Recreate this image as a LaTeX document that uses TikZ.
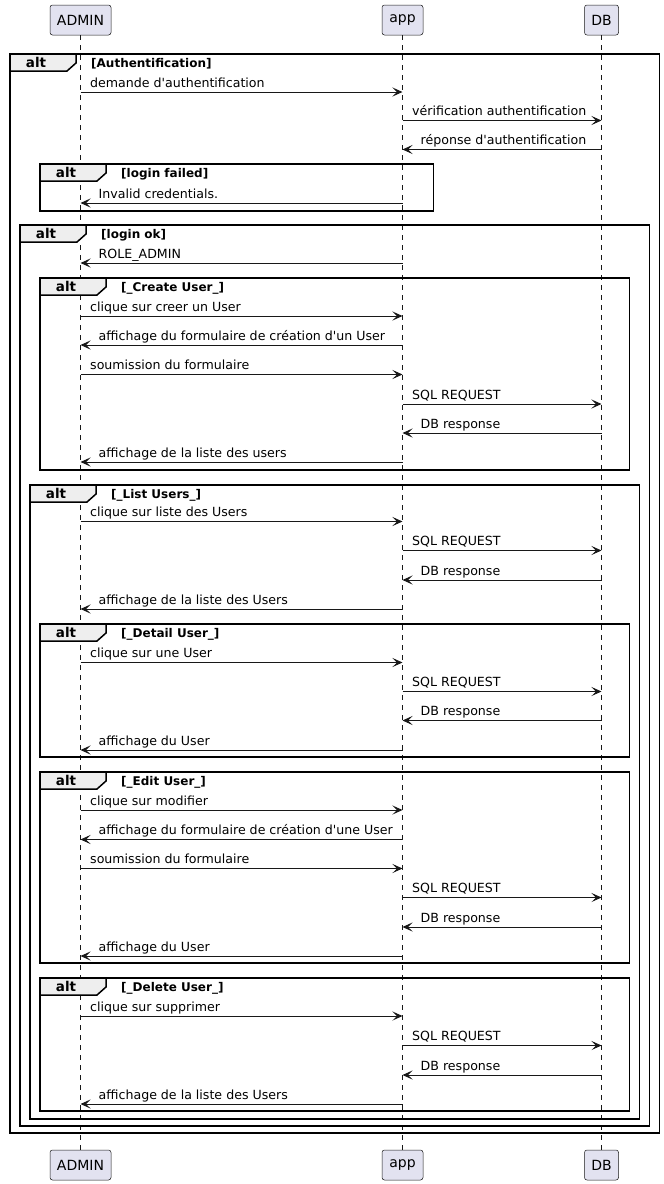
\documentclass[tikz,border=0pt]{standalone}
\usepackage{fontspec}
\newfontfamily\dvs{DejaVu Sans}
\usetikzlibrary{arrows.meta,calc}
\definecolor{ln}{HTML}{181818}
\definecolor{pfill}{HTML}{E2E2F0}
\definecolor{tabfill}{HTML}{EEEEEE}
\tikzset{
  partbox/.style={draw=ln,fill=pfill,rounded corners=2.5pt,line width=0.5pt,minimum height=30pt,inner sep=0pt,font=\dvs\fontsize{14}{16}\selectfont},
  lifeline/.style={draw=ln,line width=0.5pt,dash pattern=on 5pt off 5pt},
  msgline/.style={draw=ln,line width=1pt,-{Stealth[length=10pt,width=9pt,inset=4.5pt]}},
  msgtxt/.style={anchor=base west,inner sep=0pt,font=\dvs\fontsize{12.6}{14}\selectfont},
  framebox/.style={draw=black,line width=1.5pt},
  tabbox/.style={draw=black,line width=1.5pt,fill=tabfill,line join=miter},
  tabtxt/.style={anchor=base,inner sep=0pt,font=\dvs\fontsize{13.5}{15}\bfseries\selectfont},
  condtxt/.style={anchor=base west,inner sep=0pt,font=\dvs\fontsize{12}{14}\bfseries\selectfont},
}
\newcommand\altframe[6]{%
  \draw[framebox] (#2,#3) rectangle (#4,#5);
  \draw[tabbox] (#2,#3) -- ({#2+66},#3) -- ({#2+66},{#3+9}) -- ({#2+57},{#3+17}) -- (#2,{#3+17}) -- cycle;
  \node[tabtxt] (#1t) at ({#2+26},{#3+13}) {alt};
  \node[condtxt] (#1c) at ({#2+81},{#3+13}) {[#6]};
}
% left-to-right message: name, from, to, y, text
\newcommand\msgr[5]{%
  \coordinate (#1y) at (0,#4);
  \coordinate (#1s) at (#2 |- #1y);
  \coordinate (#1e) at (#3 |- #1y);
  \draw[msgline] (#1s) -- (#1e);
  \node[msgtxt] (#1l) at ($(#1s)+(9.5,-5)$) {#5};
}
% right-to-left message
\newcommand\msgl[5]{%
  \coordinate (#1y) at (0,#4);
  \coordinate (#1s) at (#2 |- #1y);
  \coordinate (#1e) at (#3 |- #1y);
  \draw[msgline] (#1s) -- (#1e);
  \node[msgtxt] (#1l) at ($(#1e)+(18,-5)$) {#5};
}
\begin{document}
\begin{tikzpicture}[x=1pt,y=-1pt]
\useasboundingbox (0,0) rectangle (664,1184);
% participants
\node[partbox,minimum width=61pt] (A) at (80.5,20) {ADMIN};
\node[partbox,minimum width=41pt] (P) at (402.5,20) {app};
\node[partbox,minimum width=34pt] (D) at (601.5,20) {DB};
\node[partbox,minimum width=61pt] (A2) at (80.5,1165) {ADMIN};
\node[partbox,minimum width=41pt] (P2) at (402.5,1165) {app};
\node[partbox,minimum width=34pt] (D2) at (601.5,1165) {DB};
\draw[lifeline] (A.south) -- (A2.north);
\draw[lifeline] (P.south) -- (P2.north);
\draw[lifeline] (D.south) -- (D2.north);
% frames
\altframe{f1}{10}{54}{659.5}{1133}{Authentification}
\altframe{f2}{40}{164}{433.5}{211}{login failed}
\altframe{f3}{20}{225}{649.5}{1126}{login ok}
\altframe{f4}{40}{278}{629.5}{470}{\_Create User\_}
\altframe{f5}{30}{485}{639.5}{1119}{\_List Users\_}
\altframe{f6}{40}{624}{629.5}{757}{\_Detail User\_}
\altframe{f7}{40}{772}{629.5}{963}{\_Edit User\_}
\altframe{f8}{40}{978}{629.5}{1111}{\_Delete User\_}
% messages
\msgr{m1}{A}{P}{92}{demande d'authentification}
\msgr{m2}{P}{D}{120.5}{vérification authentification}
\msgl{m3}{D}{P}{149.5}{réponse d'authentification}
\msgl{m4}{P}{A}{203}{Invalid credentials.}
\msgl{m5}{P}{A}{263}{ROLE\_ADMIN}
\msgr{m6}{A}{P}{316}{clique sur creer un User}
\msgl{m7}{P}{A}{345}{affichage du formulaire de création d'un User}
\msgr{m8}{A}{P}{374.5}{soumission du formulaire}
\msgr{m9}{P}{D}{404}{SQL REQUEST}
\msgl{m10}{D}{P}{433}{DB response}
\msgl{m11}{P}{A}{462}{affichage de la liste des users}
\msgr{m12}{A}{P}{521.5}{clique sur liste des Users}
\msgr{m13}{P}{D}{550.5}{SQL REQUEST}
\msgl{m14}{D}{P}{580}{DB response}
\msgl{m15}{P}{A}{609}{affichage de la liste des Users}
\msgr{m16}{A}{P}{662.5}{clique sur une User}
\msgr{m17}{P}{D}{691.5}{SQL REQUEST}
\msgl{m18}{D}{P}{720.5}{DB response}
\msgl{m19}{P}{A}{750}{affichage du User}
\msgr{m20}{A}{P}{810}{clique sur modifier}
\msgl{m21}{P}{A}{839.5}{affichage du formulaire de création d'une User}
\msgr{m22}{A}{P}{868.5}{soumission du formulaire}
\msgr{m23}{P}{D}{897.5}{SQL REQUEST}
\msgl{m24}{D}{P}{927}{DB response}
\msgl{m25}{P}{A}{956}{affichage du User}
\msgr{m26}{A}{P}{1016}{clique sur supprimer}
\msgr{m27}{P}{D}{1045.5}{SQL REQUEST}
\msgl{m28}{D}{P}{1075}{DB response}
\msgl{m29}{P}{A}{1104}{affichage de la liste des Users}
\end{tikzpicture}
\end{document}
